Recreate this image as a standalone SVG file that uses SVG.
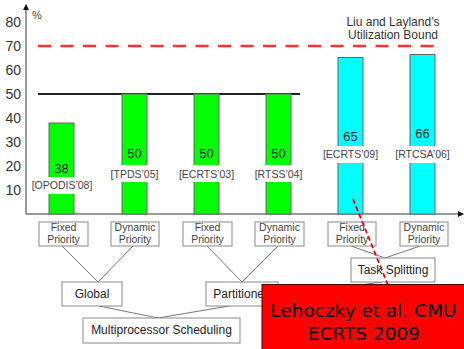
<svg xmlns="http://www.w3.org/2000/svg" width="464" height="349" viewBox="0 0 464 349">
  <style>
    text { font-family: "Liberation Sans", Arial, sans-serif; }
    .tick { font-size: 14px; fill: #333; text-anchor: end; }
    .val { font-size: 13px; fill: #222; text-anchor: middle; }
    .ref { font-size: 10.5px; fill: #444; text-anchor: middle; }
    .bar-g { fill: #00ff00; stroke: #666; stroke-width: 1; }
    .bar-c { fill: #00ffff; stroke: #666; stroke-width: 1; }
    .gap { fill: #fff; }
    .box { fill: #fff; stroke: #888; stroke-width: 1; }
    .small { font-size: 10.5px; fill: #444; text-anchor: middle; }
    .mid { font-size: 12px; fill: #222; text-anchor: middle; }
    .link { stroke: #777; stroke-width: 1; fill: none; }
  </style>
  <defs>
    <marker id="arr" markerWidth="6" markerHeight="6" refX="5" refY="3" orient="auto" markerUnits="userSpaceOnUse">
      <path d="M0,0 L6,3 L0,6 Z" fill="#111"/>
    </marker>
  </defs>
  <rect width="464" height="349" fill="#fff"/>

  <!-- axes -->
  <g id="axes">
    <line x1="26" y1="214" x2="26" y2="5" stroke="#777" stroke-width="1.5" marker-end="url(#arr)"/>
    <line x1="26" y1="214" x2="463" y2="214" stroke="#777" stroke-width="1.5" marker-end="url(#arr)"/>
    <text x="32" y="19" style="font-size:11px;fill:#444">%</text>
    <text class="tick" x="21" y="27">80</text>
    <text class="tick" x="21" y="51">70</text>
    <text class="tick" x="21" y="75">60</text>
    <text class="tick" x="21" y="99">50</text>
    <text class="tick" x="21" y="123">40</text>
    <text class="tick" x="21" y="147">30</text>
    <text class="tick" x="21" y="171">20</text>
    <text class="tick" x="21" y="195">10</text>
  </g>

  <!-- reference lines -->
  <g id="bounds">
    <line x1="38" y1="46" x2="442" y2="46" stroke="#ff3333" stroke-width="2.7" stroke-dasharray="13 9.5"/>
    <line x1="38" y1="94" x2="300" y2="94" stroke="#222" stroke-width="2"/>
    <text x="393" y="26" style="font-size:12px;fill:#333;text-anchor:middle">Liu and Layland’s</text>
    <text x="393" y="39" style="font-size:12px;fill:#333;text-anchor:middle">Utilization Bound</text>
  </g>

  <!-- bars -->
  <g id="bar-opodis">
    <rect class="bar-g" x="49" y="123" width="25" height="91"/>
    <rect class="gap" x="47" y="177" width="29" height="17"/>
    <text class="val" x="61.5" y="173">38</text>
    <text class="ref" x="62" y="189">[OPODIS’08]</text>
  </g>
  <g id="bar-tpds">
    <rect class="bar-g" x="122" y="94" width="25" height="120"/>
    <rect class="gap" x="120" y="165" width="29" height="17"/>
    <text class="val" x="134.5" y="158">50</text>
    <text class="ref" x="134.5" y="178">[TPDS’05]</text>
  </g>
  <g id="bar-ecrts03">
    <rect class="bar-g" x="194" y="94" width="25" height="120"/>
    <rect class="gap" x="192" y="165" width="29" height="17"/>
    <text class="val" x="206.5" y="158">50</text>
    <text class="ref" x="206.5" y="178">[ECRTS’03]</text>
  </g>
  <g id="bar-rtss">
    <rect class="bar-g" x="266" y="94" width="25" height="120"/>
    <rect class="gap" x="264" y="165" width="29" height="17"/>
    <text class="val" x="278.5" y="158">50</text>
    <text class="ref" x="278.5" y="178">[RTSS’04]</text>
  </g>
  <g id="bar-ecrts09">
    <rect class="bar-c" x="338" y="57.5" width="25" height="156.5"/>
    <rect class="gap" x="336" y="146" width="29" height="17"/>
    <text class="val" x="350.5" y="141">65</text>
    <text class="ref" x="350.5" y="158">[ECRTS’09]</text>
  </g>
  <g id="bar-rtcsa">
    <rect class="bar-c" x="410" y="54.5" width="25" height="159.5"/>
    <rect class="gap" x="408" y="146" width="29" height="17"/>
    <text class="val" x="422.5" y="138">66</text>
    <text class="ref" x="422.5" y="158">[RTCSA’06]</text>
  </g>

  <!-- connectors -->
  <g id="connectors">
    <line class="link" x1="62" y1="246" x2="98" y2="282"/>
    <line class="link" x1="133" y1="246" x2="98" y2="282"/>
    <line class="link" x1="207" y1="246" x2="242" y2="282"/>
    <line class="link" x1="278" y1="246" x2="242" y2="282"/>
    <line class="link" x1="351" y1="246" x2="385" y2="258"/>
    <line class="link" x1="420" y1="246" x2="385" y2="258"/>
    <line class="link" x1="382" y1="282" x2="278" y2="296"/>
    <line class="link" x1="99" y1="306" x2="158" y2="318"/>
    <line class="link" x1="229" y1="306" x2="158" y2="318"/>
  </g>

  <!-- scheduling taxonomy nodes -->
  <g id="fp-global">
    <rect class="box" x="39" y="222" width="49" height="24"/>
    <text class="small" x="63.5" y="231">Fixed</text>
    <text class="small" x="63.5" y="243">Priority</text>
  </g>
  <g id="dp-global">
    <rect class="box" x="111" y="222" width="48" height="24"/>
    <text class="small" x="135" y="231">Dynamic</text>
    <text class="small" x="135" y="243">Priority</text>
  </g>
  <g id="fp-part">
    <rect class="box" x="183" y="222" width="49" height="24"/>
    <text class="small" x="207.5" y="231">Fixed</text>
    <text class="small" x="207.5" y="243">Priority</text>
  </g>
  <g id="dp-part">
    <rect class="box" x="255" y="222" width="49" height="24"/>
    <text class="small" x="279.5" y="231">Dynamic</text>
    <text class="small" x="279.5" y="243">Priority</text>
  </g>
  <g id="fp-split">
    <rect class="box" x="328" y="222" width="48" height="24"/>
    <text class="small" x="352" y="231">Fixed</text>
    <text class="small" x="352" y="243">Priority</text>
  </g>
  <g id="dp-split">
    <rect class="box" x="400" y="222" width="48" height="24"/>
    <text class="small" x="424" y="231">Dynamic</text>
    <text class="small" x="424" y="243">Priority</text>
  </g>
  <g id="task-splitting">
    <rect class="box" x="351" y="258" width="84" height="24"/>
    <text class="mid" x="393" y="274">Task Splitting</text>
  </g>
  <g id="global">
    <rect class="box" x="62" y="282" width="60" height="24"/>
    <text class="mid" x="92" y="298">Global</text>
  </g>
  <g id="partitioned">
    <rect class="box" x="206" y="282" width="72" height="24"/>
    <text class="mid" x="242" y="298">Partitioned</text>
  </g>
  <g id="multiprocessor">
    <rect class="box" x="83" y="318" width="157" height="25"/>
    <text class="mid" x="161.5" y="334">Multiprocessor Scheduling</text>
  </g>

  <!-- annotation -->
  <g id="annotation">
    <line x1="353" y1="199" x2="390" y2="290" stroke="#ee0000" stroke-width="1.8" stroke-dasharray="5 3"/>
    <rect x="262" y="284.5" width="205" height="68" fill="#ff0000" stroke="#550000" stroke-width="1"/>
    <text x="363.5" y="317" style="font-family:'DejaVu Sans',sans-serif;font-size:18.5px;fill:#000;text-anchor:middle">Lehoczky et al. CMU</text>
    <text x="364" y="340" style="font-family:'DejaVu Sans',sans-serif;font-size:18.5px;fill:#000;text-anchor:middle">ECRTS 2009</text>
  </g>
</svg>
